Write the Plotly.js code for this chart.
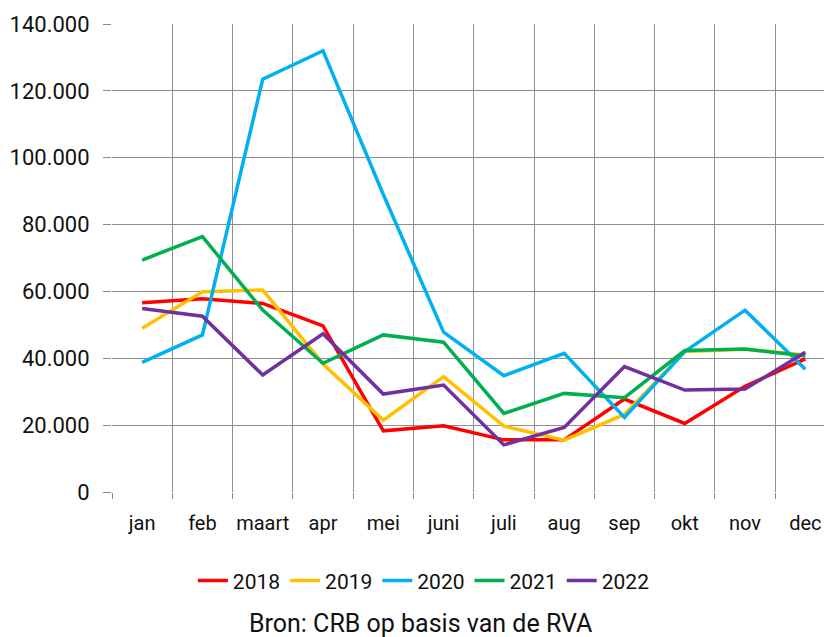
<!DOCTYPE html>
<html>
<head>
<meta charset="utf-8">
<script src="https://cdn.plot.ly/plotly-3.0.1.min.js"></script>
<style>html,body{margin:0;padding:0;background:#fff;}#chart{width:824px;height:637px;}</style>
</head>
<body>
<div id="chart"></div>
<script>
const months = ["jan","feb","maart","apr","mei","juni","juli","aug","sep","okt","nov","dec"];
const y2018 = [56600, 57800, 56400, 49700, 18300, 19800, 15600, 15600, 27800, 20500, 31600, 39800];
const y2019 = [49000, 59900, 60400, 38300, 21500, 34500, 19700, 15500, 23200, 42000, 42700, 41000];
const y2020 = [38800, 47000, 123500, 132000, 89000, 47800, 34800, 41500, 22300, 42000, 54400, 36700];
const y2021 = [69400, 76400, 54400, 38500, 47000, 44800, 23500, 29500, 28200, 42300, 42800, 40700];
const y2022 = [54900, 52600, 35000, 47300, 29300, 32000, 14100, 19300, 37500, 30500, 30800, 41800];
const seriesNames = ["2018","2019","2020","2021","2022"];
const seriesData = [y2018, y2019, y2020, y2021, y2022];
const colors = ["#FF0000","#FFC000","#00B0F0","#00B050","#7030A0"];

const traces = seriesNames.map((n, i) => ({
  type: "scatter", mode: "lines", name: n, x: months, y: seriesData[i],
  line: {color: colors[i], width: 3.5}, hoverinfo: "skip"
}));

const layout = {
  width: 824, height: 637,
  margin: {l: 112, r: 0, t: 24, b: 145},
  paper_bgcolor: "#fff", plot_bgcolor: "#fff",
  font: {family: "Roboto, 'Noto Sans', sans-serif", size: 21, color: "#111"},
  separators: ",.",
  showlegend: true,
  legend: {orientation: "h", x: 0.438, xanchor: "center", y: -0.19, yanchor: "middle",
           font: {size: 21}, itemwidth: 30, tracegroupgap: 0},
  xaxis: {type: "category", range: [-0.5, 11.31], tickson: "boundaries",
          showgrid: true, gridcolor: "#8e8e8e", gridwidth: 1,
          ticks: "outside", ticklen: 6, tickcolor: "#8e8e8e",
          showline: false, zeroline: false, ticklabelstandoff: 17, tickangle: 0,
          tickfont: {size: 20}, fixedrange: true},
  yaxis: {range: [0, 140000], dtick: 20000, tickformat: ",d",
          showgrid: true, gridcolor: "#8e8e8e", gridwidth: 1,
          ticks: "outside", ticklen: 8, tickcolor: "#8e8e8e",
          showline: false, zeroline: false, ticklabelstandoff: 9,
          tickfont: {size: 22}, fixedrange: true},
  annotations: [{text: "Bron: CRB op basis van de RVA", xref: "paper", yref: "paper",
                 x: 0.433, xanchor: "center", y: -0.28, yanchor: "middle",
                 showarrow: false, font: {size: 25, color: "#111"}}]
};

Plotly.newPlot("chart", traces, layout, {staticPlot: true, displayModeBar: false});
</script>
</body>
</html>
